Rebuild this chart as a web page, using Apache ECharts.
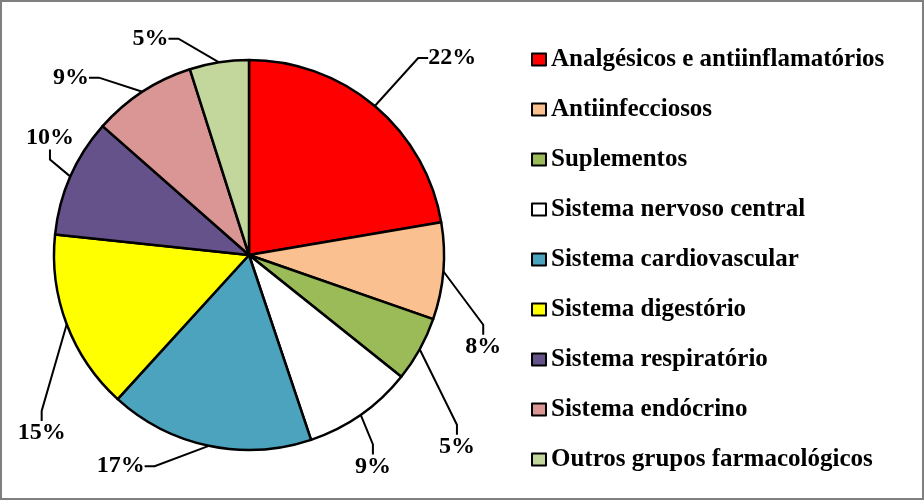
<!DOCTYPE html>
<html><head><meta charset="utf-8">
<script src="https://cdn.jsdelivr.net/npm/echarts@6/dist/echarts.min.js"></script>
<style>
html,body{margin:0;padding:0;background:#fff;}
#c{width:924px;height:500px;box-sizing:border-box;border:2px solid #7f7f7f;background:#fff;}
</style></head>
<body><div id="c"></div>
<script>
const categories = ["Analgésicos e antiinflamatórios","Antiinfecciosos","Suplementos","Sistema nervoso central","Sistema cardiovascular","Sistema digestório","Sistema respiratório","Sistema endócrino","Outros grupos farmacológicos"];
const values = [22.3, 8.0, 5.4, 9.1, 16.9, 14.9, 9.8, 8.6, 4.9];
const colors = ["#FF0000","#FAC090","#9BBB59","#FFFFFF","#4BA3BD","#FFFF00","#66528A","#D99694","#C3D69B"];
// label nudges (style/layout, not data)
const labelShift = [[19,-25],[-23,73],[-22,83],[-38,27],[-43,-9],[42,98],[46,-27],[-22,11],[-31,6]];

const chart = echarts.init(document.getElementById('c'));
const font = '"Liberation Serif","Times New Roman",serif';
chart.setOption({
  animation:false,
  backgroundColor:'#fff',
  legend:{
    orient:'vertical', left:524, top:40,
    itemWidth:14, itemHeight:12, itemGap:25,
    icon:'rect',
    textStyle:{fontFamily:font, fontWeight:'bold', fontSize:25, color:'#000', padding:[0,0,0,0]},
    data:categories
  },
  series:[{
    type:'pie', center:[247,253], radius:195,
    startAngle:90, clockwise:true,
    avoidLabelOverlap:false,
    data:categories.map((n,i)=>({name:n,value:values[i],itemStyle:{color:colors[i]}})),
    itemStyle:{borderColor:'#000',borderWidth:2.5},
    label:{
      show:true, position:'outside',
      formatter:p=>Math.round(p.percent)+'%',
      fontFamily:font, fontWeight:'bold', fontSize:24, color:'#000'
    },
    labelLine:{show:true,length:30,length2:10,lineStyle:{color:'#000',width:2}},
    labelLayout:p=>{
      const s = labelShift[p.dataIndex], r = p.labelRect;
      return {x:r.x + s[0], y:r.y + r.height/2 + s[1], align:'left', verticalAlign:'middle'};
    },
    emphasis:{disabled:true}
  }]
});
</script></body></html>
